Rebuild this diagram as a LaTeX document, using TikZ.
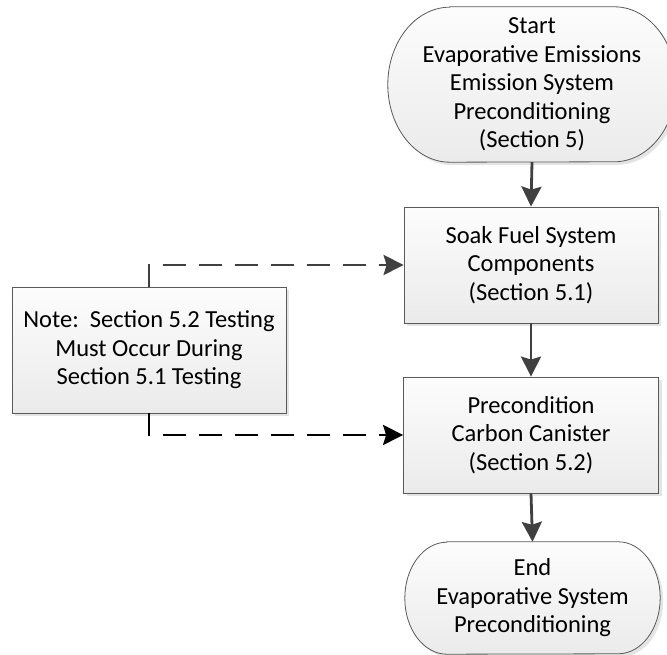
\documentclass[tikz,border=0pt]{standalone}
\usepackage{fontspec}
\setmainfont{Carlito}
\usetikzlibrary{arrows.meta,shadows,backgrounds}
\definecolor{edgec}{HTML}{5A5A5A}
\definecolor{arrc}{HTML}{404040}
\tikzset{
 txt/.style={align=center, font=\fontsize{24.5}{28.5}\selectfont, inner sep=0pt},
 procbox/.style={txt, draw=edgec, line width=0.8pt, top color=gray!2, bottom color=gray!16,
   drop shadow={shadow xshift=3pt, shadow yshift=-3pt, fill=gray!60, opacity=0.35}},
 termshape/.style={draw=edgec, line width=0.8pt, top color=gray!2, bottom color=gray!16},
 termshadow/.style={fill=gray!60, opacity=0.35, transform canvas={shift={(3pt,-3pt)}}},
 tip/.style={-{Stealth[length=20pt,width=20pt,inset=3pt]}},
 flow/.style={draw=arrc, line width=2.8pt, tip},
 dashflow/.style={line width=2.9pt, dash pattern=on 23pt off 13pt, tip},
}
\begin{document}
\begin{tikzpicture}[x=1pt,y=1pt]
\useasboundingbox (0,0) rectangle (667,655);
% nodes
\node[txt, minimum width=288pt, minimum height=155pt] (S) at (532,570.5)
  {Start\\Evaporative Emissions\\Emission System\\Preconditioning\\(Section 5)};
\node[procbox, minimum width=254pt, minimum height=116pt] (B1) at (531,390)
  {Soak Fuel System\\Components\\(Section 5.1)};
\node[procbox, minimum width=255pt, minimum height=116pt] (B2) at (531,220)
  {Precondition\\Carbon Canister\\(Section 5.2)};
\node[procbox, minimum width=274pt, minimum height=126pt] (N) at (149,305)
  {Note:\ \ Section 5.2 Testing\\Must Occur During\\Section 5.1 Testing};
\node[txt, minimum width=255pt, minimum height=112pt] (E) at (532.5,57)
  {End\\Evaporative System\\Preconditioning};
% terminal shapes
\begin{scope}[on background layer]
 \fill[termshadow] ([xshift=62pt]S.north west) -- ([xshift=-62pt]S.north east)
   arc[start angle=90,end angle=-90,x radius=62pt,y radius=77.5pt]
   -- ([xshift=62pt]S.south west)
   arc[start angle=270,end angle=90,x radius=62pt,y radius=77.5pt] -- cycle;
 \path[termshape] ([xshift=62pt]S.north west) -- ([xshift=-62pt]S.north east)
   arc[start angle=90,end angle=-90,x radius=62pt,y radius=77.5pt]
   -- ([xshift=62pt]S.south west)
   arc[start angle=270,end angle=90,x radius=62pt,y radius=77.5pt] -- cycle;
 \fill[termshadow] ([xshift=42pt]E.north west) -- ([xshift=-42pt]E.north east)
   arc[start angle=90,end angle=-90,x radius=42pt,y radius=56pt]
   -- ([xshift=42pt]E.south west)
   arc[start angle=270,end angle=90,x radius=42pt,y radius=56pt] -- cycle;
 \path[termshape] ([xshift=42pt]E.north west) -- ([xshift=-42pt]E.north east)
   arc[start angle=90,end angle=-90,x radius=42pt,y radius=56pt]
   -- ([xshift=42pt]E.south west)
   arc[start angle=270,end angle=90,x radius=42pt,y radius=56pt] -- cycle;
\end{scope}
% connectors
\draw[flow] (S.south) -- (B1.north);
\draw[flow] (B1.south) -- (B2.north);
\draw[flow] (B2.south) -- (E.north);
\draw[dashflow, draw=arrc] (N.north) |- (B1.west);
\draw[dashflow, draw=black] (N.south) |- (B2.west);
\end{tikzpicture}
\end{document}
